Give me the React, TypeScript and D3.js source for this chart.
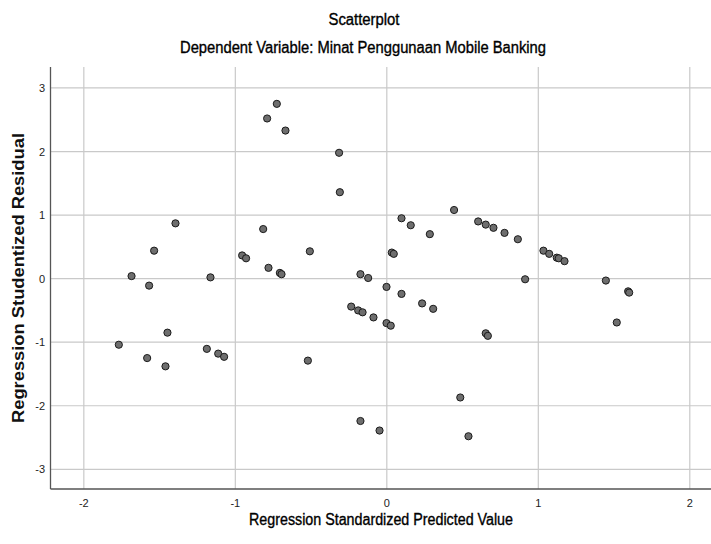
import React from 'react';
import * as d3 from 'd3';

// predicted (x) and studentized residual (y)
const predicted = [
  -1.395, -1.536, -1.685, -1.569, -1.164, -0.955, -0.929, -1.448, -1.769, -1.582,
  -1.461, -1.188, -1.113, -1.074, -0.726, -0.79, -0.669, -0.315, -0.31, -0.816,
  -0.508, -0.781, -0.706, -0.695, -0.174, -0.123, 0.033, 0.046, 0.097, 0.158,
  0.284, 0.444, 0.603, 0.653, 0.704, 0.777, 0.865, 1.034, 1.072, 1.122,
  1.135, 1.173, 0.913, 1.446, 1.593, 1.6, 1.518, 0.653, 0.667, 0.485,
  0.539, -0.002, 0.097, 0.233, 0.306, -0.235, -0.189, -0.16, -0.088, -0.002,
  0.026, -0.521, -0.174, -0.048,
];
const residual = [
  0.87, 0.44, 0.04, -0.11, 0.02, 0.365, 0.32, -0.85, -1.04, -1.25,
  -1.38, -1.105, -1.18, -1.23, 2.75, 2.52, 2.33, 1.98, 1.36, 0.78,
  0.43, 0.17, 0.09, 0.07, 0.07, 0.01, 0.41, 0.39, 0.95, 0.84,
  0.7, 1.08, 0.9, 0.85, 0.8, 0.72, 0.62, 0.44, 0.39, 0.33,
  0.32, 0.275, -0.01, -0.03, -0.2, -0.22, -0.69, -0.86, -0.9, -1.87,
  -2.48, -0.13, -0.24, -0.39, -0.475, -0.44, -0.5, -0.53, -0.61, -0.7,
  -0.74, -1.29, -2.24, -2.39,
];
const xTicks = [-2, -1, 0, 1, 2];
const yTicks = [-3, -2, -1, 0, 1, 2, 3];

const title = 'Scatterplot';
const subtitle = 'Dependent Variable: Minat Penggunaan Mobile Banking';
const xLabel = 'Regression Standardized Predicted Value';
const yLabel = 'Regression Studentized Residual';

const narrow = '"Liberation Sans Narrow", "Liberation Sans", Arial, sans-serif';

export default function App() {
  const width = 711, height = 544;
  const left = 50.5, right = 711, top = 67, bottom = 489;

  const x = d3.scaleLinear().domain([-2.22, 2.14]).range([left, right]);
  const y = d3.scaleLinear().domain([-3.31, 3.33]).range([bottom, top]);

  // heavier look of the SPSS narrow font
  const heavy = { fill: '#000', stroke: '#000', strokeWidth: 0.35 };

  return (
    <svg width={width} height={height}
      style={{ position: 'absolute', left: 0, top: 0, background: '#fff' }}>
      <text x={364} y={25} textAnchor="middle" fontFamily={narrow} fontSize={16}
        textLength={71} lengthAdjust="spacingAndGlyphs" {...heavy}>{title}</text>
      <text x={363} y={53} textAnchor="middle" fontFamily={narrow} fontSize={16}
        textLength={366} lengthAdjust="spacingAndGlyphs" {...heavy}>{subtitle}</text>

      {/* grid */}
      {xTicks.map(t => (
        <line key={'gx' + t} x1={x(t)} x2={x(t)} y1={top} y2={bottom}
          stroke="#c9c9c9" strokeWidth={1.2} />
      ))}
      {yTicks.map(t => (
        <line key={'gy' + t} x1={left} x2={right} y1={y(t)} y2={y(t)}
          stroke="#c9c9c9" strokeWidth={1.2} />
      ))}

      {/* axes */}
      <line x1={left} x2={left} y1={top} y2={bottom} stroke="#555" strokeWidth={1.3} />
      <line x1={left} x2={right} y1={bottom} y2={bottom} stroke="#555" strokeWidth={1.3} />

      {xTicks.map(t => (
        <text key={'tx' + t} x={x(t)} y={507} textAnchor="middle" fontFamily={narrow}
          fontSize={11} fill="#222">{t}</text>
      ))}
      {yTicks.map(t => (
        <text key={'ty' + t} x={45} y={y(t) + 4} textAnchor="end" fontFamily={narrow}
          fontSize={11} fill="#222">{t}</text>
      ))}

      <text x={381} y={525} textAnchor="middle" fontFamily={narrow} fontSize={16}
        textLength={264} lengthAdjust="spacingAndGlyphs" {...heavy}>{xLabel}</text>
      <text transform={`translate(24,${(top + bottom) / 2}) rotate(-90)`} textAnchor="middle"
        fontFamily='"Liberation Sans", Arial, sans-serif' fontWeight="bold" fontSize={16}
        textLength={290} lengthAdjust="spacingAndGlyphs" fill="#111">{yLabel}</text>

      {predicted.map((p, i) => (
        <circle key={i} cx={x(p)} cy={y(residual[i])} r={3.6}
          fill="#6e6e6e" stroke="#1a1a1a" strokeWidth={1} />
      ))}
    </svg>
  );
}
